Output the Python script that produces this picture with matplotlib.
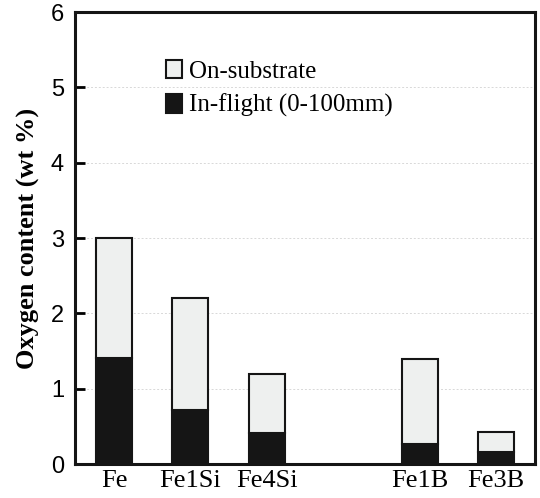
import numpy as np
import matplotlib
matplotlib.use("Agg")
from matplotlib import pyplot as plt
from matplotlib.patches import Patch

# Data
alloys = ['Fe', 'Fe1Si', 'Fe4Si', 'Fe1B', 'Fe3B']
positions = [0, 1, 2, 4, 5]
total = [3.0, 2.2, 1.2, 1.4, 0.42]
inflight = [1.41, 0.72, 0.41, 0.27, 0.155]
onsubstrate = [t - f for t, f in zip(total, inflight)]

# Style
LIGHT = '#eef0ef'
DARK = '#151515'
EDGE = '#151515'
WIDTH = 0.47
SERIF = 'Liberation Serif'
SANS = 'Liberation Sans'

fig = plt.figure(figsize=(5.4, 4.98), dpi=100)
ax = fig.add_axes([75 / 540, 34 / 498, 460 / 540, 452 / 498])

ax.bar(positions, inflight, width=WIDTH, color=DARK, edgecolor=EDGE, linewidth=1.5, zorder=3)
ax.bar(positions, onsubstrate, bottom=inflight, width=WIDTH, color=LIGHT,
       edgecolor=EDGE, linewidth=1.5, zorder=3)

ax.set_xlim(-0.51, 5.51)
ax.set_ylim(0, 6)
ax.set_xticks(positions)
ax.set_xticklabels(alloys, fontfamily=SERIF, fontsize=19)
ax.set_yticks(range(7))
ax.set_yticklabels([str(i) for i in range(7)], fontfamily=SANS, fontsize=17)
ax.tick_params(axis='x', length=0, pad=4)
ax.tick_params(axis='y', direction='in', length=7, width=2, pad=8)
ax.yaxis.grid(True, linestyle=(0, (2, 2)), color='#d8d8d8', linewidth=0.7, zorder=0)

for s in ax.spines.values():
    s.set_linewidth(2.2)
    s.set_color('#151515')

ax.set_ylabel('Oxygen content (wt %)', fontfamily=SERIF, fontweight='bold', fontsize=19, labelpad=8)

handles = [Patch(facecolor=LIGHT, edgecolor=EDGE, linewidth=1.5, label='On-substrate'),
           Patch(facecolor=DARK, edgecolor=EDGE, linewidth=1.5, label='In-flight (0-100mm)')]
ax.legend(handles=handles, loc='upper left', bbox_to_anchor=(0.175, 0.916), frameon=False,
          prop={'family': SERIF, 'size': 18}, handlelength=0.65, handleheight=0.75,
          handletextpad=0.3, labelspacing=0.45, borderaxespad=0)

fig.savefig('out.png', dpi=100)
